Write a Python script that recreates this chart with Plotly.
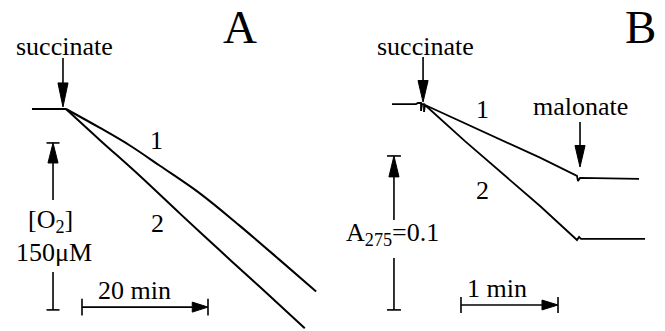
import plotly.graph_objects as go

# ---------------- Panel A: O2 electrode traces ----------------
# time in min (0 = succinate addition), [O2] in µM
a_base_t = [-5.4, 0.0]
a_base_o2 = [230, 230]
a1_t = [0.0, 5.4, 10.2, 14.9, 21.3, 27.6, 34.0, 39.7]
a1_o2 = [230, 213, 197, 179, 154, 125, 94, 66]
a2_t = [0.0, 5.4, 11.7, 18.1, 24.4, 30.8, 37.9]
a2_o2 = [230, 202, 170, 136, 103, 70, 33]

# ---------------- Panel B: A275 traces ----------------
# time in min (0 = succinate addition), absorbance at 275 nm
b_base_t = [-0.340, -0.093, -0.072, -0.041, -0.041, -0.031, -0.010, -0.010, 0.0]
b_base_a = [0.6006, 0.6006, 0.6013, 0.6013, 0.5961, 0.6006, 0.6006, 0.5955, 0.6000]
b1_t = [0.0, 0.567, 1.186, 1.567, 1.577, 1.598, 1.80, 2.00, 2.206]
b1_a = [0.6000, 0.5838, 0.5658, 0.5539, 0.5506, 0.5526, 0.5523, 0.5522, 0.5520]
b2_t = [0.0, 0.412, 1.186, 1.567, 1.588, 1.608, 1.85, 2.05, 2.268]
b2_a = [0.6000, 0.5765, 0.5344, 0.5123, 0.5143, 0.5130, 0.5131, 0.5129, 0.5130]

# scale bars
a_time_bar = 20      # min
a_conc_bar = 150     # µM
b_time_bar = 1       # min
b_abs_bar = 0.1      # A275

FONT = "Liberation Serif"
BLK = "black"
FS = 26

fig = go.Figure()
for xs, ys, shp in [(a_base_t, a_base_o2, "linear"), (a1_t, a1_o2, "spline"), (a2_t, a2_o2, "spline")]:
    fig.add_trace(go.Scatter(x=xs, y=ys, mode="lines",
                             line=dict(color=BLK, width=2, shape=shp, smoothing=1.0),
                             xaxis="x", yaxis="y", hoverinfo="skip"))
for xs, ys in [(b_base_t, b_base_a), (b1_t, b1_a), (b2_t, b2_a)]:
    fig.add_trace(go.Scatter(x=xs, y=ys, mode="lines", line=dict(color=BLK, width=1.8),
                             xaxis="x2", yaxis="y2", hoverinfo="skip"))

shapes = []
annos = []
LW = 1.6


def seg(xr, yr, x0, y0, x1, y1, w=LW):
    shapes.append(dict(type="line", xref=xr, yref=yr, x0=x0, y0=y0, x1=x1, y1=y1,
                       line=dict(color=BLK, width=w)))


def tri(xr, yr, pts):
    p = "M " + " L ".join(f"{x},{y}" for x, y in pts) + " Z"
    shapes.append(dict(type="path", xref=xr, yref=yr, path=p, fillcolor=BLK,
                       line=dict(color=BLK, width=1)))


def down_arrow(xr, yr, x, top, tip, hl, hw):
    seg(xr, yr, x, top, x, tip + hl)
    tri(xr, yr, [(x, tip), (x - hw, tip + hl), (x + hw, tip + hl)])


def text(xr, yr, x, y, s, size=FS):
    annos.append(dict(x=x, y=y, xref=xr, yref=yr, text=s, showarrow=False,
                      xanchor="center", yanchor="middle",
                      font=dict(family=FONT, size=size, color=BLK)))


# ---- Panel A decorations ----
down_arrow("x", "y", -0.48, 275.8, 231.8, 21.6, 0.8)
text("x", "y", -0.16, 286.1, "succinate")
text("x", "y", 14.4, 202.1, "1")
text("x", "y", 14.6, 126.7, "2")
# vertical scale bar (150 µM)
vx, vtop = -2.06, 199.5
vbot = vtop - a_conc_bar
seg("x", "y", vx - 1.03, vtop, vx + 1.03, vtop)
seg("x", "y", vx - 1.03, vbot, vx + 1.03, vbot)
tri("x", "y", [(vx, vtop), (vx - 0.8, vtop - 18), (vx + 0.8, vtop - 18)])
seg("x", "y", vx, vtop - 18, vx, 148.2)
seg("x", "y", vx, 83.6, vx, vbot)
text("x", "y", -2.4, 129.4, "[O<sub>2</sub>]")
text("x", "y", -1.9, 101.5, "150μM")
# horizontal scale bar (20 min)
hx0, hy = 2.54, 52.0
hx1 = hx0 + a_time_bar
seg("x", "y", hx0, hy - 7.6, hx0, hy + 7.6)
seg("x", "y", hx1, hy - 7.6, hx1, hy + 7.6)
seg("x", "y", hx0, hy, hx1 - 2.5, hy)
tri("x", "y", [(hx1, hy), (hx1 - 2.5, hy - 4.5), (hx1 - 2.5, hy + 4.5)])
text("x", "y", 10.8, 66.5, "20 min")

# ---- Panel B decorations ----
down_arrow("x2", "y2", -0.02, 0.6312, 0.6019, 0.014, 0.052)
text("x2", "y2", 0.0, 0.6379, "succinate")
down_arrow("x2", "y2", 1.598, 0.589, 0.5597, 0.014, 0.052)
text("x2", "y2", 1.608, 0.599, "malonate")
text("x2", "y2", 0.588, 0.5974, "1")
text("x2", "y2", 0.588, 0.5442, "2")
bx, btop = -0.32, 0.5669
bbot = btop - b_abs_bar
seg("x2", "y2", bx - 0.072, btop, bx + 0.072, btop)
seg("x2", "y2", bx - 0.072, bbot, bx + 0.072, bbot)
tri("x2", "y2", [(bx, btop), (bx - 0.052, btop - 0.0136), (bx + 0.052, btop - 0.0136)])
seg("x2", "y2", bx, btop - 0.0136, bx, 0.5253)
seg("x2", "y2", bx, 0.5006, bx, bbot)
text("x2", "y2", -0.33, 0.5162, "A<sub>275</sub>=0.1")
gx0, gy = 0.371, 0.4701
gx1 = gx0 + b_time_bar
seg("x2", "y2", gx0, gy - 0.0052, gx0, gy + 0.0052)
seg("x2", "y2", gx1, gy - 0.0052, gx1, gy + 0.0052)
seg("x2", "y2", gx0, gy, gx1 - 0.165, gy)
tri("x2", "y2", [(gx1, gy), (gx1 - 0.165, gy - 0.0032), (gx1 - 0.165, gy + 0.0032)])
text("x2", "y2", 0.742, 0.4805, "1 min")

# panel letters
annos.append(dict(x=240 / 665, y=1 - 26.5 / 331, xref="paper", yref="paper", text="A",
                  showarrow=False, xanchor="center", yanchor="middle",
                  font=dict(family=FONT, size=47, color=BLK)))
annos.append(dict(x=640 / 665, y=1 - 26.5 / 331, xref="paper", yref="paper", text="B",
                  showarrow=False, xanchor="center", yanchor="middle",
                  font=dict(family=FONT, size=47, color=BLK)))

fig.update_layout(
    width=665, height=331,
    margin=dict(l=0, r=0, t=0, b=0),
    showlegend=False,
    paper_bgcolor="white", plot_bgcolor="white",
    xaxis=dict(domain=[0, 1], range=[-10.476, 95.079], visible=False, fixedrange=True),
    yaxis=dict(domain=[0, 1], range=[30.54, 327.93], visible=False, fixedrange=True),
    xaxis2=dict(overlaying="x", range=[-4.381, 2.474], visible=False, fixedrange=True),
    yaxis2=dict(overlaying="y", range=[0.4532, 0.6682], visible=False, fixedrange=True),
    shapes=shapes,
    annotations=annos,
)

fig.write_html("out.html", config={"displayModeBar": False})

# remove the default page margin so the figure sits at the window origin
with open("out.html", "r", encoding="utf-8") as f:
    html = f.read()
html = html.replace("<head>", "<head><style>html,body{margin:0;padding:0;overflow:hidden;}</style>", 1)
with open("out.html", "w", encoding="utf-8") as f:
    f.write(html)
